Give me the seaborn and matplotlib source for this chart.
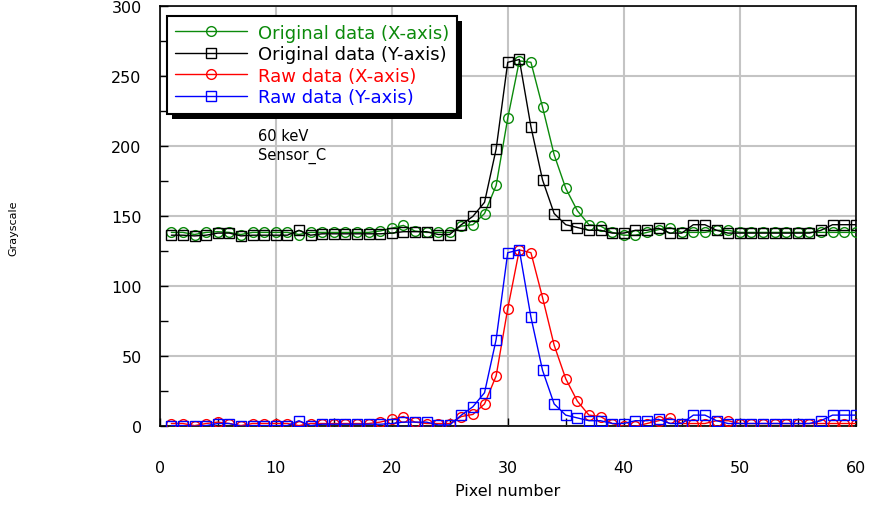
import matplotlib
matplotlib.use("Agg")
import matplotlib.pyplot as plt
import seaborn as sns
import pandas as pd
from matplotlib.ticker import MultipleLocator
from matplotlib.patches import Rectangle
from matplotlib.transforms import IdentityTransform

# ---- data ----
pixels = list(range(1, 61))

orig_x = [138.5, 138.5, 137.0, 138.5, 139.0, 138.5, 137.0, 138.5, 138.5, 138.5,
          138.5, 137.0, 138.5, 138.5, 138.5, 138.5, 138.5, 138.5, 139.5, 141.5,
          143.5, 139.5, 138.5, 138.5, 138.5, 143.0, 144.0, 152.0, 172.0, 220.0,
          261.0, 260.0, 228.0, 194.0, 170.0, 154.0, 144.0, 143.0, 138.5, 136.5,
          136.5, 138.5, 140.5, 142.0, 138.5, 138.5, 138.5, 140.0, 140.0, 138.5,
          138.5, 138.5, 138.5, 138.5, 138.5, 138.5, 138.5, 138.5, 138.5, 138.5]

orig_y = [136.5, 136.5, 136.0, 136.5, 138.0, 138.0, 136.0, 136.5, 136.5, 136.5,
          136.5, 140.0, 136.5, 137.5, 137.5, 137.5, 137.5, 137.5, 137.5, 138.0,
          139.0, 139.0, 139.0, 137.0, 137.0, 144.0, 150.0, 160.0, 198.0, 260.0,
          262.0, 214.0, 176.0, 152.0, 144.0, 142.0, 140.0, 140.0, 138.0, 138.0,
          140.0, 140.0, 141.5, 138.0, 138.0, 144.0, 144.0, 140.0, 138.0, 138.0,
          138.0, 138.0, 138.0, 138.0, 138.0, 138.0, 140.0, 144.0, 144.0, 144.0]

raw_x = [2.0, 2.0, 0.5, 2.0, 3.0, 2.0, 0.5, 2.0, 2.0, 2.0,
         2.0, 0.5, 2.0, 2.0, 2.0, 2.0, 2.0, 2.0, 3.0, 5.0,
         7.0, 3.0, 2.0, 2.0, 2.0, 7.0, 8.5, 16.0, 36.0, 84.0,
         126.0, 124.0, 92.0, 58.0, 34.0, 18.0, 8.0, 7.0, 2.0, 0.0,
         0.0, 2.0, 4.0, 6.0, 2.0, 2.0, 2.0, 4.0, 4.0, 2.0,
         2.0, 2.0, 2.0, 2.0, 2.0, 2.0, 2.0, 2.0, 2.0, 2.0]

raw_y = [0.5, 0.5, 0.0, 0.5, 2.0, 2.0, 0.0, 0.5, 0.5, 0.5,
         0.5, 4.0, 0.5, 1.5, 1.5, 1.5, 1.5, 1.5, 1.5, 2.0,
         3.0, 3.0, 3.0, 1.0, 1.0, 8.0, 14.0, 24.0, 62.0, 124.0,
         126.0, 78.0, 40.0, 16.0, 8.0, 6.0, 4.0, 4.0, 2.0, 2.0,
         4.0, 4.0, 5.0, 2.0, 2.0, 8.0, 8.0, 4.0, 2.0, 2.0,
         2.0, 2.0, 2.0, 2.0, 2.0, 2.0, 4.0, 8.0, 8.0, 8.0]

series_labels = ["Original data (X-axis)", "Original data (Y-axis)",
                 "Raw data (X-axis)", "Raw data (Y-axis)"]
series_values = [orig_x, orig_y, raw_x, raw_y]
series_markers = ["o", "s", "o", "s"]
series_colors = ["#0b8a0b", "#000000", "#ff0000", "#0000ff"]

x_ticks = [0, 10, 20, 30, 40, 50, 60]
y_ticks = [0, 50, 100, 150, 200, 250, 300]

# ---- style ----
sns.set_theme(style="ticks")
plt.rcParams["font.family"] = ["DejaVu Sans"]

fig = plt.figure(figsize=(8.7, 5.06), dpi=100)
ax = fig.add_axes([0.1836, 0.1555, 0.8, 0.8301])

for label, vals, mk, col in zip(series_labels, series_values, series_markers, series_colors):
    df = pd.DataFrame({"Pixel": pixels, "Value": vals})
    sns.lineplot(data=df, x="Pixel", y="Value", ax=ax, color=col, linewidth=1.0,
                 marker=mk, markersize=7, markerfacecolor="none",
                 markeredgecolor=col, markeredgewidth=1.0, label=label, zorder=3)

ax.set_xlim(0, 60)
ax.set_ylim(0, 300)
ax.set_xticks(x_ticks)
ax.set_yticks(y_ticks)
ax.xaxis.set_minor_locator(MultipleLocator(5))
ax.yaxis.set_minor_locator(MultipleLocator(25))
ax.grid(True, which="major", color="#c4c4c4", linewidth=1.5, zorder=0)
ax.set_axisbelow(True)
ax.tick_params(which="both", direction="in", length=6, width=1, color="black",
               labelcolor="black")
ax.tick_params(axis="x", which="major", pad=24, labelsize=11.5)
ax.tick_params(axis="y", which="major", pad=13, labelsize=11.5)
for sp in ax.spines.values():
    sp.set_visible(True)
    sp.set_color("black")
    sp.set_linewidth(1.2)

ax.set_xlabel("Pixel number", fontsize=11.5, color="black")
ax.xaxis.set_label_coords(0.5004, -0.135)
ax.set_ylabel("Grayscale", fontsize=8, color="black")
ax.yaxis.set_label_coords(-0.2036, 0.475)

ax.text(8.5, 208, "60 keV", fontsize=10.5, va="center", ha="left", color="black")
ax.text(8.5, 193.5, "Sensor_C", fontsize=10.5, va="center", ha="left", color="black")

leg = ax.legend(loc="upper left", bbox_to_anchor=(0.0105, 0.977), frameon=True,
                fancybox=False, shadow=False,
                edgecolor="black", framealpha=1.0, fontsize=13,
                handlelength=4.0, borderpad=0.42, labelspacing=0.2,
                handletextpad=0.6, borderaxespad=0)
leg.get_frame().set_linewidth(1.5)
leg.set_zorder(6)
for txt, col in zip(leg.get_texts(), series_colors):
    txt.set_color(col)

# drop shadow behind the legend box
fig.canvas.draw()
bb = leg.get_frame().get_window_extent()
shadow = Rectangle((bb.x0 + 5, bb.y0 - 5), bb.width, bb.height,
                   transform=IdentityTransform(), facecolor="black",
                   edgecolor="none", zorder=5.5)
ax.add_patch(shadow)

fig.savefig("out.png", dpi=100)
